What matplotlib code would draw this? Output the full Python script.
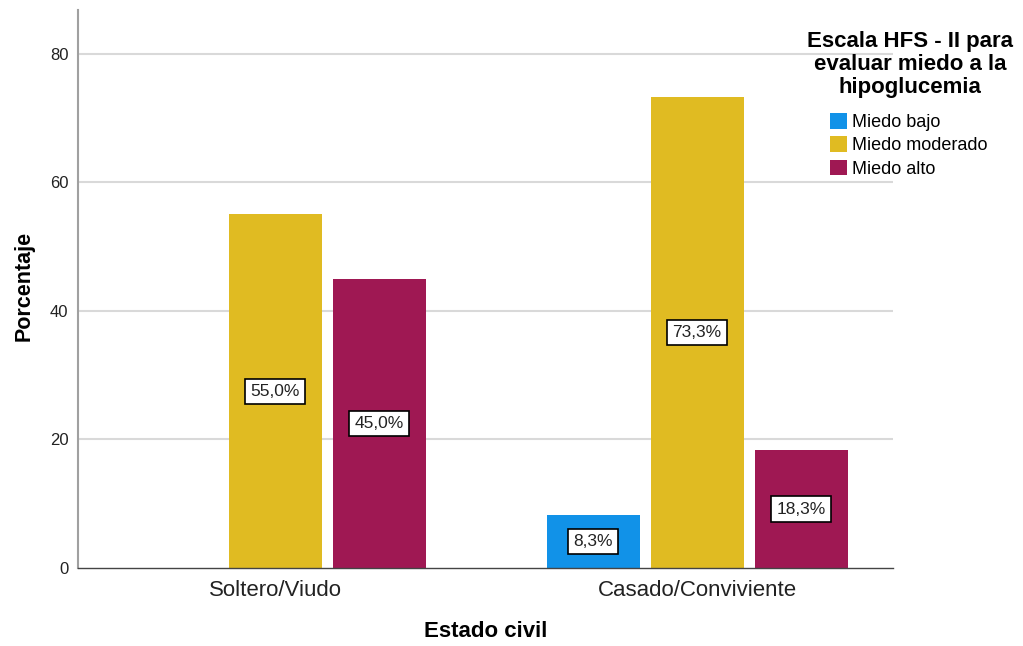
import matplotlib
matplotlib.use("Agg")
import matplotlib.pyplot as plt
from matplotlib.patches import Patch
import numpy as np

# ---------------------------------------------------------------------------
# Data
# ---------------------------------------------------------------------------
CATEGORIES = ["Soltero/Viudo", "Casado/Conviviente"]
SERIES = ["Miedo bajo", "Miedo moderado", "Miedo alto"]
BAJO = [0.0, 8.3]
MODERADO = [55.0, 73.3]
ALTO = [45.0, 18.3]
Y_TICKS = [0, 20, 40, 60, 80]

LEGEND_TITLE = "Escala HFS - II para\nevaluar miedo a la\nhipoglucemia"
X_LABEL = "Estado civil"
Y_LABEL = "Porcentaje"

COLORS = ["#1192e8", "#e0bb22", "#9f1853"]
FONT = ["Liberation Sans", "DejaVu Sans"]

plt.rcParams["font.family"] = FONT


def main():
    fig = plt.figure(figsize=(10.23, 6.46), dpi=100)
    fig.patch.set_facecolor("white")
    ax = fig.add_axes([78 / 1023, 1 - 568 / 646, (893 - 78) / 1023, (568 - 10) / 646])

    x = np.arange(len(CATEGORIES))
    width = 0.22
    step = 0.2464
    series_vals = [BAJO, MODERADO, ALTO]

    for i, (vals, color) in enumerate(zip(series_vals, COLORS)):
        pos = x + (i - 1) * step
        ax.bar(pos, vals, width=width, color=color, zorder=3)
        for p, v in zip(pos, vals):
            if v <= 0:
                continue
            ax.text(p, v / 2, f"{v:.1f}%".replace(".", ","),
                    ha="center", va="center", fontsize=12.5, color="#222222",
                    zorder=4,
                    bbox=dict(boxstyle="square,pad=0.3", facecolor="white",
                              edgecolor="black", linewidth=1.2))

    ax.set_xlim(-0.467, 1.464)
    ax.set_ylim(0, 86.8)
    ax.set_yticks(Y_TICKS)
    ax.set_xticks(x)
    ax.set_xticklabels(CATEGORIES)
    ax.tick_params(axis="both", length=0)
    ax.tick_params(axis="y", labelsize=12, pad=7, labelcolor="#222222")
    ax.tick_params(axis="x", labelsize=16, pad=9, labelcolor="#222222")

    for v in Y_TICKS[1:]:
        ax.axhline(v, color="#d9d9d9", linewidth=1.5, zorder=1)

    for s in ("top", "right"):
        ax.spines[s].set_visible(False)
    ax.spines["left"].set_color("#a0a0a0")
    ax.spines["left"].set_linewidth(1.5)
    ax.spines["bottom"].set_color("#444444")
    ax.spines["bottom"].set_linewidth(1.0)
    ax.spines["bottom"].set_zorder(5)

    ax.set_xlabel(X_LABEL, fontsize=16, fontweight="bold", labelpad=14)
    ax.set_ylabel(Y_LABEL, fontsize=15.5, fontweight="bold", labelpad=14)
    ax.yaxis.set_label_coords(-0.0535, 0.505)

    fig.text(910 / 1023, 1 - 31 / 646, LEGEND_TITLE, ha="center", va="top",
             fontsize=16, fontweight="bold", linespacing=1.13,
             multialignment="center")

    handles = [Patch(facecolor=c, edgecolor="none") for c in COLORS]
    fig.legend(handles, SERIES, loc="upper left",
               bbox_to_anchor=(830 / 1023, 1 - 113 / 646),
               frameon=False, fontsize=13, borderpad=0, borderaxespad=0,
               handlelength=0.95, handleheight=0.95, handletextpad=0.25,
               labelspacing=0.3)

    fig.savefig("out.png", dpi=100, facecolor="white")
    plt.close(fig)


if __name__ == "__main__":
    main()
